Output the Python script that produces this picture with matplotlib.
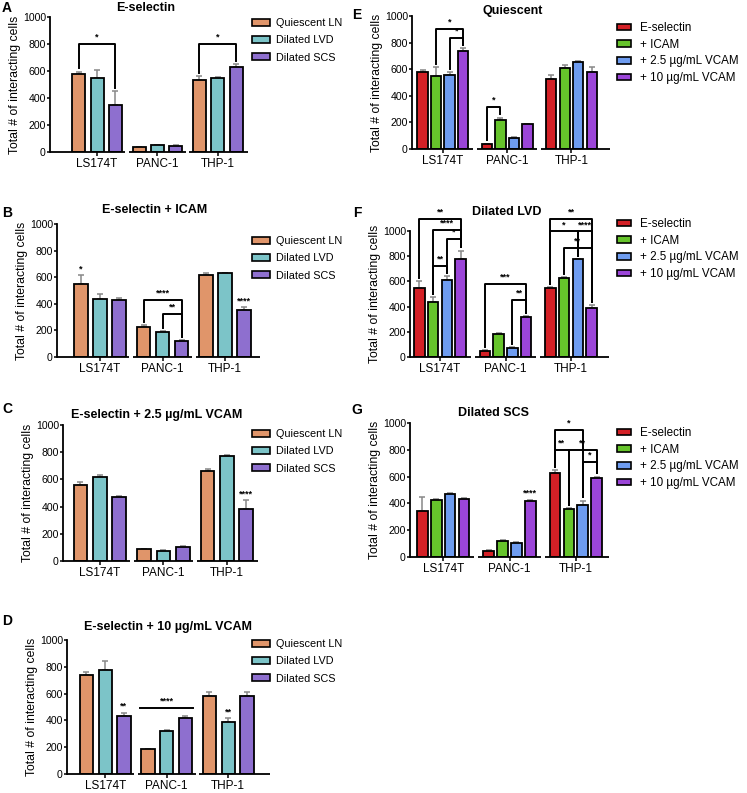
import numpy as np
import matplotlib
matplotlib.use("Agg")
import matplotlib.pyplot as plt
from matplotlib.patches import Patch

plt.rcParams['font.family'] = ['Liberation Sans', 'DejaVu Sans']

groups = ["LS174T", "PANC-1", "THP-1"]
yticks = [0, 200, 400, 600, 800, 1000]

left_series = ["Quiescent LN", "Dilated LVD", "Dilated SCS"]
right_series = ["E-selectin", "+ ICAM", "+ 2.5 µg/mL VCAM", "+ 10 µg/mL VCAM"]
left_colors = ["#E0956A", "#7CC4C8", "#8E6FCF"]
right_colors = ["#D42026", "#66C42B", "#6E9CF0", "#9B45D8"]

# Panel A: E-selectin  (rows: Quiescent LN, Dilated LVD, Dilated SCS; cols: groups)
a_mean = [[580, 35, 530], [550, 50, 545], [345, 45, 630]]
a_err = [[15, 5, 30], [55, 5, 10], [105, 5, 20]]
# Panel B: E-selectin + ICAM
b_mean = [[550, 225, 615], [435, 185, 630], [425, 120, 355]]
b_err = [[65, 15, 20], [40, 10, 5], [15, 5, 20]]
# Panel C: E-selectin + 2.5 VCAM
c_mean = [[560, 85, 665], [615, 75, 775], [470, 100, 385]]
c_err = [[20, 5, 10], [20, 5, 5], [5, 8, 60]]
# Panel D: E-selectin + 10 VCAM
d_mean = [[740, 185, 580], [775, 320, 390], [430, 420, 585]]
d_err = [[20, 5, 35], [70, 5, 25], [25, 10, 25]]
# Panel E: Quiescent (rows: E-selectin, +ICAM, +2.5 VCAM, +10 VCAM)
e_mean = [[580, 35, 525], [550, 220, 610], [560, 85, 655], [740, 185, 580]]
e_err = [[15, 5, 30], [65, 15, 20], [20, 5, 10], [20, 5, 35]]
# Panel F: Dilated LVD
f_mean = [[550, 50, 545], [435, 180, 630], [615, 75, 775], [775, 320, 390]]
f_err = [[55, 5, 10], [40, 8, 5], [25, 5, 5], [70, 5, 25]]
# Panel G: Dilated SCS
g_mean = [[345, 45, 630], [425, 120, 355], [470, 105, 385], [430, 420, 590]]
g_err = [[105, 8, 20], [5, 5, 10], [5, 8, 35], [10, 8, 10]]

# significance brackets: (group, bar_i, bar_j, y, label)
a_brackets = [(0, 0, 2, 800, "*"), (2, 0, 2, 800, "*")]
b_brackets = [(1, 0, 2, 430, "****"), (1, 1, 2, 325, "**")]
e_brackets = [(0, 1, 3, 905, "*"), (0, 2, 3, 837, "*"), (1, 0, 1, 318, "*")]
f_brackets = [(0, 0, 3, 1098, "**"), (0, 1, 3, 1010, "****"), (0, 2, 3, 939, "*"),
              (0, 1, 2, 722, "**"), (1, 0, 3, 582, "***"), (1, 2, 3, 455, "**"),
              (2, 0, 3, 1098, "**"), (2, 0, 2, 997, "*"), (2, 2, 3, 997, "****"),
              (2, 1, 3, 865, "**")]
g_brackets = [(2, 0, 2, 945, "*"), (2, 0, 1, 801, "**"), (2, 1, 3, 796, "**"),
              (2, 2, 3, 709, "*")]
# single-bar stars: (group, bar, label)
b_stars = [(0, 0, "*"), (2, 2, "****")]
c_stars = [(2, 2, "****")]
d_stars = [(0, 2, "**"), (2, 1, "**")]
g_stars = [(1, 3, "****")]
d_line = (1, 490, "****")

W, H = 747, 793
fig = plt.figure(figsize=(W / 100, H / 100), dpi=100)


def px_axes(x0, x1, ytop, ybot):
    return fig.add_axes([x0 / W, 1 - ybot / H, (x1 - x0) / W, (ybot - ytop) / H])


def bar_x(g, k, n, step):
    return g + (k - (n - 1) / 2) * step


def panel(ax, title, tpos, means, errs, colors, width, step, xlim, brackets=(), stars=()):
    n = len(means)
    xs = np.arange(len(groups))
    for k in range(n):
        x = xs + (k - (n - 1) / 2) * step
        ax.bar(x, means[k], width, color=colors[k], edgecolor='black', linewidth=1.3, zorder=3)
        ax.errorbar(x, means[k], yerr=[np.zeros(len(groups)), errs[k]], fmt='none',
                    ecolor='#888888', elinewidth=1.1, capsize=2.2, capthick=1.1, zorder=2)
    ax.set_xlim(*xlim)
    ax.set_ylim(0, 1000)
    ax.set_yticks(yticks)
    ax.set_xticks(xs)
    ax.set_xticklabels(groups, fontsize=8.5)
    ax.tick_params(axis='y', labelsize=7.6, width=1.1, length=2, pad=1)
    ax.tick_params(axis='x', width=1.1, length=3, pad=1.5)
    for s in ['top', 'right', 'bottom']:
        ax.spines[s].set_visible(False)
    ax.spines['left'].set_linewidth(1.3)
    bounds = [xlim[0], 0.5, 1.5, xlim[1]]
    gap = 0.03
    for g in range(len(groups)):
        lo = bounds[g] + (gap if g > 0 else 0)
        hi = bounds[g + 1] - (gap if g < len(groups) - 1 else 0)
        ax.plot([lo, hi], [0, 0], color='black', lw=1.3, clip_on=False, zorder=4,
                solid_capstyle='butt')
    ax.set_ylabel("Total # of interacting cells", fontsize=8.8, labelpad=1)
    fig.text(tpos[0] / W, 1 - tpos[1] / H, title, fontsize=9, fontweight='bold',
             ha='center', va='center')
    tops = [[means[k][g] + errs[k][g] for g in range(len(groups))] for k in range(n)]
    for (g, i, j, y, lab) in brackets:
        xi, xj = bar_x(g, i, n, step), bar_x(g, j, n, step)
        yi, yj = tops[i][g] + 25, tops[j][g] + 25
        ax.plot([xi, xi, xj, xj], [yi, y, y, yj], color='black', lw=1.4, clip_on=False, zorder=5)
        ax.text((xi + xj) / 2, y + 18, lab, ha='center', va='bottom', fontsize=6.5,
                fontweight='bold', clip_on=False)
    for (g, k, lab) in stars:
        ax.text(bar_x(g, k, n, step), tops[k][g] + 15, lab, ha='center', va='bottom',
                fontsize=6.5, fontweight='bold', clip_on=False)
    return ax


def legend(labels, colors, x, y, spacing, fs, hl, hh, tp):
    handles = [Patch(facecolor=c, edgecolor='black', linewidth=1.2) for c in colors]
    fig.legend(handles, labels, loc='upper left', bbox_to_anchor=(x / W, 1 - y / H),
               frameon=False, fontsize=fs, handlelength=hl, handleheight=hh,
               handletextpad=tp, labelspacing=spacing, borderaxespad=0, borderpad=0)


lw3, ls3 = 0.215, 0.305
lw4, ls4 = 0.16, 0.21

axA = panel(px_axes(50, 248, 17, 152), "E-selectin", (146, 8), a_mean, a_err, left_colors,
            lw3, ls3, (-0.78, 2.5), a_brackets)
axB = panel(px_axes(57, 260, 224, 357), "E-selectin + ICAM", (155, 210), b_mean, b_err,
            left_colors, lw3, ls3, (-0.69, 2.56), b_brackets, b_stars)
axC = panel(px_axes(63, 258, 425, 561), "E-selectin + 2.5 µg/mL VCAM", (157, 415), c_mean, c_err,
            left_colors, lw3, ls3, (-0.58, 2.49), (), c_stars)
axD = panel(px_axes(67, 270, 640, 774), "E-selectin + 10 µg/mL VCAM", (168, 627), d_mean, d_err,
            left_colors, lw3, ls3, (-0.62, 2.68), (), d_stars)
g0, yline, lab = d_line
xl, xr = bar_x(g0, 0, 3, ls3) - lw3 / 2 - 0.02, bar_x(g0, 2, 3, ls3) + lw3 / 2 + 0.02
axD.plot([xl, xr], [yline, yline], color='black', lw=1.4)
axD.text((xl + xr) / 2, yline + 18, lab, ha='center', va='bottom', fontsize=6.5, fontweight='bold')

axE = panel(px_axes(412, 610, 16, 149), "Quiescent", (513, 11), e_mean, e_err, right_colors,
            lw4, ls4, (-0.48, 2.6), e_brackets)
axF = panel(px_axes(410, 609, 231, 357), "Dilated LVD", (507, 212), f_mean, f_err, right_colors,
            lw4, ls4, (-0.46, 2.58), f_brackets)
axG = panel(px_axes(410, 609, 423, 557), "Dilated SCS", (493, 413), g_mean, g_err, right_colors,
            lw4, ls4, (-0.5, 2.5), g_brackets, g_stars)

for top in (18, 236, 429, 639):
    legend(left_series, left_colors, 252, top, 0.67, 7.8, 1.65, 0.65, 0.6)
for top in (22, 218, 427):
    legend(right_series, right_colors, 617, top, 0.4, 8.4, 1.2, 0.5, 0.75)

for lab, x, y in [("A", 7, 8), ("B", 7, 213), ("C", 7, 409), ("D", 7, 621),
                  ("E", 357, 15), ("F", 357, 213), ("G", 357, 410)]:
    fig.text(x / W, 1 - y / H, lab, fontsize=10, fontweight='bold', ha='center', va='center')

fig.savefig("out.png", dpi=100)
